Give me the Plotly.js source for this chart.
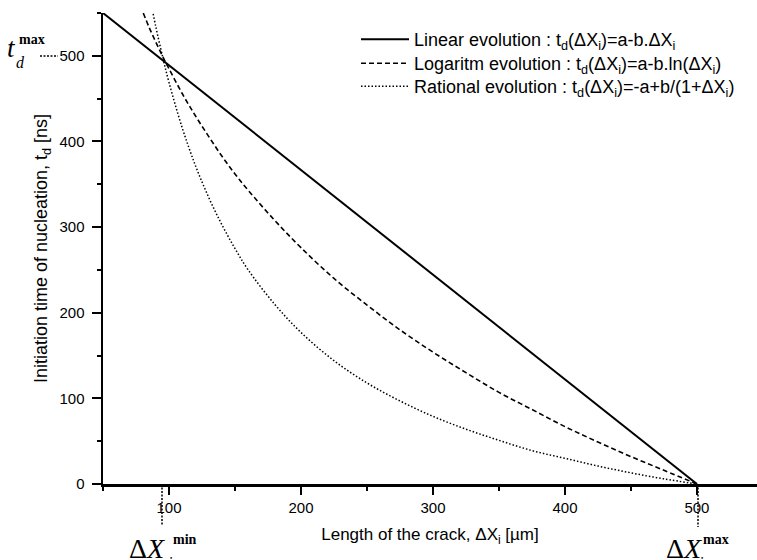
<!DOCTYPE html>
<html>
<head>
<meta charset="utf-8">
<script src="https://cdn.plot.ly/plotly-3.0.1.min.js"></script>
<style>html,body{margin:0;padding:0;background:#fff;}#chart{width:757px;height:560px;}</style>
</head>
<body>
<div id="chart"></div>
<script>
// Values
const xLinear = [50, 500];
const tLinear = [550, 0];

const xLog = [80.5, 85, 90, 95, 100, 110, 120, 130, 140, 150, 160, 180, 200, 225, 250, 275, 300, 325, 350, 375, 400, 425, 450, 475, 500];
const tLog = [550, 533, 516, 500, 485, 456, 430, 406, 383, 362, 343, 308, 276, 240, 209, 180, 154, 130, 107, 87, 67, 49, 32, 16, 0];

const xRat = [88, 90, 95, 100, 110, 120, 130, 140, 150, 160, 180, 200, 225, 250, 275, 300, 325, 350, 375, 400, 425, 450, 475, 500];
const tRat = [549, 534, 500, 469, 416, 372, 335, 303, 275, 250, 210, 177, 144, 118, 97, 79, 64, 51, 39, 30, 21, 13, 6, 0];

const seriesNames = [
  'Linear evolution : t<sub>d</sub>(ΔX<sub>i</sub>)=a-b.ΔX<sub>i</sub>',
  'Logaritm evolution : t<sub>d</sub>(ΔX<sub>i</sub>)=a-b.ln(ΔX<sub>i</sub>)',
  'Rational evolution : t<sub>d</sub>(ΔX<sub>i</sub>)=-a+b/(1+ΔX<sub>i</sub>)'
];
const xTickVals = [100, 200, 300, 400, 500];
const yTickVals = [0, 100, 200, 300, 400, 500];

const SANS = 'Liberation Sans, Arial, sans-serif';
const SERIF = 'Liberation Serif, Times New Roman, serif';

// plot-area geometry helpers (paper coords)
const L = 103, R = 757, T = 13, B = 484;
const px = v => (v - L) / (R - L);
const py = v => (B - v) / (B - T);

const traces = [
  {x: xLinear, y: tLinear, name: seriesNames[0], legend: 'legend', mode: 'lines', line: {color: '#000', width: 2}},
  {x: xLog, y: tLog, name: seriesNames[1], legend: 'legend2', mode: 'lines', line: {color: '#000', width: 1.6, dash: '5px,3px', shape: 'spline'}},
  {x: xRat, y: tRat, name: seriesNames[2], legend: 'legend3', mode: 'lines', line: {color: '#000', width: 1.5, dash: '1.5px,2px', shape: 'spline'}}
];

const legendBase = top => ({x: px(356), y: py(top), xanchor: 'left', yanchor: 'top', bgcolor: 'rgba(0,0,0,0)',
  font: {family: SANS, size: 18, color: '#000'}, itemwidth: 48});

const layout = {
  width: 757, height: 560,
  margin: {l: L, r: 757 - R, t: T, b: 560 - B, pad: 0},
  paper_bgcolor: '#fff', plot_bgcolor: '#fff',
  showlegend: true,
  font: {family: SANS, color: '#000'},
  legend: legendBase(21),
  legend2: legendBase(45),
  legend3: legendBase(68),
  xaxis: {
    range: [50, 545.5], tickmode: 'array', tickvals: xTickVals, ticktext: xTickVals.map(String),
    showline: true, linewidth: 2.5, linecolor: '#000', mirror: false,
    ticks: 'outside', ticklen: 8, tickwidth: 2, tickcolor: '#000',
    minor: {tickmode: 'linear', tick0: 0, dtick: 50, ticks: 'outside', ticklen: 4, tickwidth: 2, tickcolor: '#000', showgrid: false},
    showgrid: false, zeroline: false,
    tickfont: {family: SANS, size: 15, color: '#000'},
    title: {text: 'Length of the crack, ΔX<sub>i</sub> [µm]', font: {family: SANS, size: 17, color: '#000'}, standoff: 14}
  },
  yaxis: {
    range: [0, 550], tickmode: 'array', tickvals: yTickVals, ticktext: yTickVals.map(String),
    showline: true, linewidth: 2.5, linecolor: '#000', mirror: false,
    ticks: 'outside', ticklen: 9, tickwidth: 2, tickcolor: '#000', ticklabelstandoff: 4,
    minor: {tickmode: 'linear', tick0: 0, dtick: 50, ticks: 'outside', ticklen: 4, tickwidth: 2, tickcolor: '#000', showgrid: false},
    showgrid: false, zeroline: false,
    tickfont: {family: SANS, size: 15, color: '#000'},
    title: {text: 'Initiation time of nucleation, t<sub>d</sub> [ns]', font: {family: SANS, size: 18, color: '#000'}, standoff: 7}
  },
  shapes: [
    {type: 'line', xref: 'paper', yref: 'paper', x0: px(40), x1: px(58), y0: py(56), y1: py(56), line: {color: '#000', width: 1.5, dash: '2px,1.5px'}},
    {type: 'line', xref: 'paper', yref: 'paper', x0: px(162), x1: px(162), y0: py(484), y1: py(526), line: {color: '#000', width: 1.5, dash: '2px,1.5px'}},
    {type: 'line', xref: 'paper', yref: 'paper', x0: px(698), x1: px(698), y0: py(484), y1: py(527), line: {color: '#000', width: 1.5, dash: '2px,1.5px'}}
  ],
  annotations: [
    // t_d^max
    {xref: 'paper', yref: 'paper', x: px(5), y: py(48), xanchor: 'left', yanchor: 'middle', showarrow: false,
     text: '<i>t</i>', font: {family: SERIF, size: 27, color: '#000'}},
    {xref: 'paper', yref: 'paper', x: px(14), y: py(63), xanchor: 'left', yanchor: 'middle', showarrow: false,
     text: '<i>d</i>', font: {family: SERIF, size: 16, color: '#000'}},
    {xref: 'paper', yref: 'paper', x: px(17), y: py(40), xanchor: 'left', yanchor: 'middle', showarrow: false,
     text: '<b>max</b>', font: {family: SERIF, size: 14, color: '#000'}},
    // ΔX_i^min
    {xref: 'paper', yref: 'paper', x: px(127), y: py(548), xanchor: 'left', yanchor: 'middle', showarrow: false,
     text: 'Δ<i>X</i>', font: {family: SERIF, size: 28, color: '#000'}},
    {xref: 'paper', yref: 'paper', x: px(171), y: py(539), xanchor: 'left', yanchor: 'middle', showarrow: false,
     text: '<b>min</b>', font: {family: SERIF, size: 14, color: '#000'}},
    {xref: 'paper', yref: 'paper', x: px(166), y: py(562), xanchor: 'left', yanchor: 'middle', showarrow: false,
     text: '<i>i</i>', font: {family: SERIF, size: 16, color: '#000'}},
    // ΔX_i^max
    {xref: 'paper', yref: 'paper', x: px(664), y: py(548), xanchor: 'left', yanchor: 'middle', showarrow: false,
     text: 'Δ<i>X</i>', font: {family: SERIF, size: 28, color: '#000'}},
    {xref: 'paper', yref: 'paper', x: px(701), y: py(539), xanchor: 'left', yanchor: 'middle', showarrow: false,
     text: '<b>max</b>', font: {family: SERIF, size: 14, color: '#000'}},
    {xref: 'paper', yref: 'paper', x: px(697), y: py(562), xanchor: 'left', yanchor: 'middle', showarrow: false,
     text: '<i>i</i>', font: {family: SERIF, size: 16, color: '#000'}}
  ]
};

Plotly.newPlot('chart', traces, layout, {displayModeBar: false, staticPlot: true});
</script>
</body>
</html>
